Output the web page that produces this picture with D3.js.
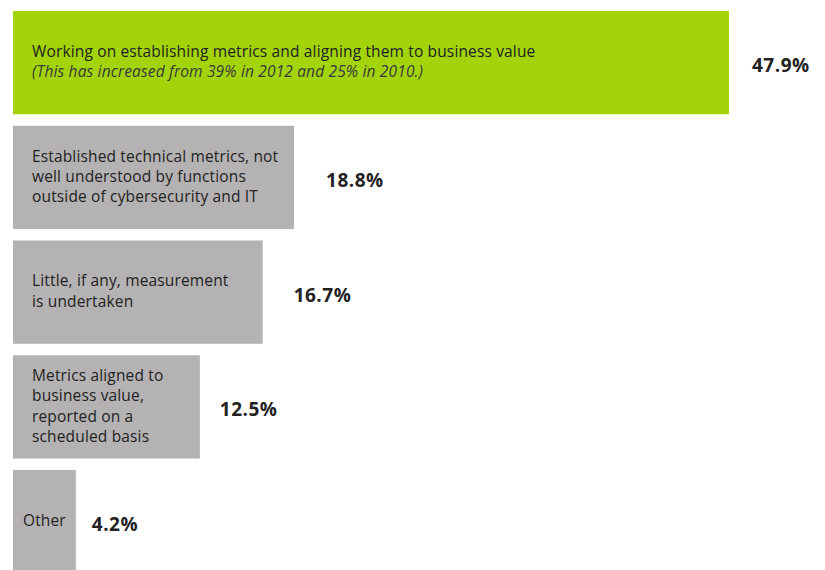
<!DOCTYPE html>
<html>
<head>
<meta charset="utf-8">
<script src="https://cdn.jsdelivr.net/npm/d3@7"></script>
<style>
  body { margin: 0; background: #fff; }
  svg { display: block; font-family: "Open Sans", "Noto Sans", sans-serif; }
</style>
</head>
<body>
<svg id="chart" width="825" height="570"></svg>
<script>
// data
const categories = [
  ["Working on establishing metrics and aligning them to business value"],
  ["Established technical metrics, not", "well understood by functions", "outside of cybersecurity and IT"],
  ["Little, if any, measurement", "is undertaken"],
  ["Metrics aligned to", "business value,", "reported on a", "scheduled basis"],
  ["Other"]
];
const notes = ["(This has increased from 39% in 2012 and 25% in 2010.)", null, null, null, null];
const values = [47.9, 18.8, 16.7, 12.5, 4.2];
const highlight = [true, false, false, false, false];

// gap between bar end and value label, as laid out in the original
const labelGap = [23, 32, 31, 20, 16];

const svg = d3.select('#chart');

const step = 114.75;
const x = d3.scaleLinear().domain([0, 47.9]).range([13, 729]);
const y = d3.scaleBand()
  .domain(d3.range(values.length))
  .range([11, 11 + step * (values.length - 0.1)])
  .paddingInner(0.1)
  .paddingOuter(0);

const rows = svg.selectAll('g.row')
  .data(values)
  .join('g')
  .attr('class', 'row');

rows.append('rect')
  .attr('x', x(0))
  .attr('y', (d, i) => y(i))
  .attr('width', d => x(d) - x(0))
  .attr('height', y.bandwidth())
  .attr('fill', (d, i) => highlight[i] ? '#a3d309' : '#b4b2b3');

// category text inside bars
rows.each(function(d, i) {
  const g = d3.select(this);
  const lines = categories[i].map(t => ({ t: t, italic: false }));
  if (notes[i]) lines.push({ t: notes[i], italic: true });
  const lh = 20.3;
  const cy = y(i) + y.bandwidth() / 2;
  const first = cy - (lines.length - 1) * lh / 2 + 4.5;
  const txt = g.selectAll('text.cat')
    .data(lines)
    .join('text')
    .attr('class', 'cat')
    .attr('x', 32)
    .attr('y', (l, j) => first + j * lh)
    .attr('font-size', 15.5)
    .attr('letter-spacing', 0.15)
    .attr('font-style', l => l.italic ? 'italic' : 'normal')
    .attr('fill', l => l.italic ? '#3a3a3a' : '#222')
    .text(l => l.t);

  // narrow bars: centre the text in the bar instead
  const w = d3.max(txt.nodes(), n => n.getComputedTextLength());
  if (32 + w + 10 > x(d)) {
    txt.attr('x', (x(0) + x(d)) / 2 - w / 2);
  }
});

// value labels
rows.append('text')
  .attr('x', (d, i) => x(d) + labelGap[i])
  .attr('y', (d, i) => y(i) + y.bandwidth() / 2 + 9.5)
  .attr('font-size', 19)
  .attr('letter-spacing', 0.5)
  .attr('font-weight', 'bold')
  .attr('fill', '#222')
  .text(d => d3.format('.1f')(d) + '%');
</script>
</body>
</html>
